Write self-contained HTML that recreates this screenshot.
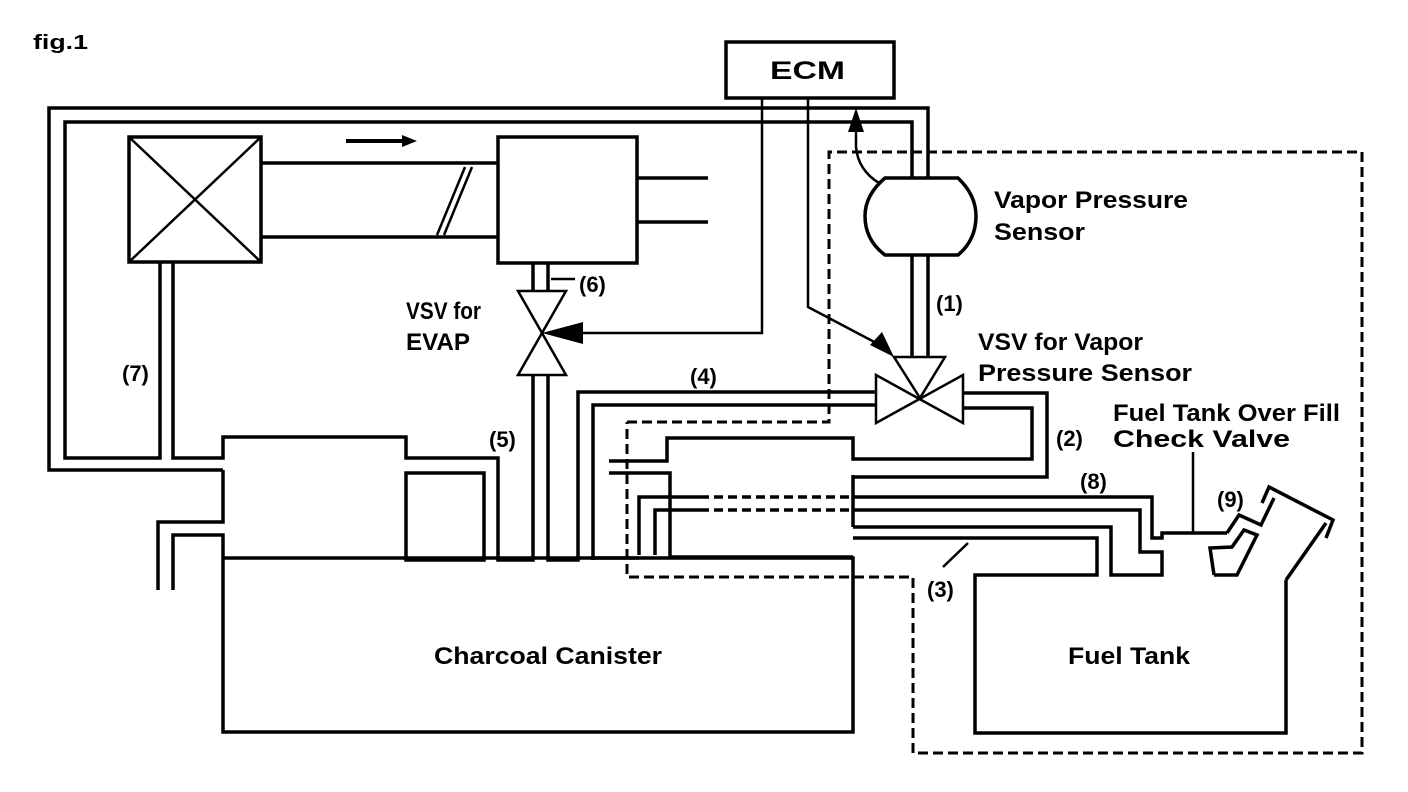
<!DOCTYPE html>
<html><head><meta charset="utf-8"><style>
html,body{margin:0;padding:0;background:#fff;}
svg{display:block;}
text{font-family:"Liberation Sans",sans-serif;font-weight:bold;fill:#000;}
</style></head><body>
<svg width="1408" height="792" viewBox="0 0 1408 792" xmlns="http://www.w3.org/2000/svg">
<g fill="none" stroke="#000" stroke-width="3.5" stroke-linejoin="miter">
<rect x="726" y="42" width="168" height="56"/>
<polyline points="223,470 49,470 49,108 928,108 928,178"/>
<polyline points="160,262 160,458 65,458 65,122 912,122 912,178"/>
<rect x="129" y="137" width="132" height="125"/>
<line x1="129" y1="137" x2="261" y2="262" stroke-width="2.5"/>
<line x1="261" y1="137" x2="129" y2="262" stroke-width="2.5"/>
<line x1="261" y1="163" x2="498" y2="163"/>
<line x1="261" y1="237" x2="498" y2="237"/>
<line x1="465" y1="167" x2="437" y2="235" stroke-width="2.5"/>
<line x1="472" y1="167" x2="444" y2="235" stroke-width="2.5"/>
<rect x="498" y="137" width="139" height="126"/>
<line x1="637" y1="178" x2="708" y2="178"/>
<line x1="637" y1="222" x2="708" y2="222"/>
<line x1="533" y1="263" x2="533" y2="291"/>
<line x1="548" y1="263" x2="548" y2="291"/>
<line x1="551" y1="279" x2="575" y2="279" stroke-width="2.5"/>
<polygon points="518,291 566,291 518,375 566,375" stroke-width="2.5"/>
<polyline points="173,262 173,458 223,458 223,437 406,437 406,458 498,458 498,560 533,560 533,375"/>
<polyline points="223,470 223,522 158,522 158,590"/>
<polyline points="173,590 173,535 223,535 223,558"/>
<rect x="406" y="473" width="78" height="87"/>
<polyline points="223,558 853,558 853,732 223,732 223,558"/>
<polyline points="548,375 548,560 578,560 578,392 876,392"/>
<polyline points="593,560 593,405 876,405"/>
<polyline points="963,393 1047,393 1047,477 853,477"/>
<polyline points="963,408 1032,408 1032,459 853,459 853,438 667,438 667,461 609,461"/>
<polyline points="609,473 670,473 670,557 853,557"/>
<line x1="853" y1="475" x2="853" y2="527"/>
<polyline points="853,497 1152,497 1152,538 1162,538 1162,533 1227,533"/>
<polyline points="853,510 1140,510 1140,552 1162,552 1162,575 1111,575 1111,527 853,527"/>
<polyline points="639,555 639,497 700,497"/>
<polyline points="655,555 655,510 700,510"/>
<line x1="591" y1="558" x2="639" y2="558"/>
<polyline points="853,538 1097,538 1097,575 975,575 975,733 1286,733 1286,580"/>
<line x1="968" y1="543" x2="943" y2="567" stroke-width="2.5"/>
<polyline points="1286,580 1326,523" />
<polyline points="1326,538 1333,520 1269,487 1262,503"/>
<polyline points="1227,533 1239,515 1261,525 1274,498"/>
<polyline points="1214,575 1210,548 1232,547 1244,530 1257,535 1237,575 1214,575"/>
<line x1="1193" y1="452" x2="1193" y2="533" stroke-width="2.5"/>
<path d="M885,178 L958,178 Q976,195 976,216 Q976,240 958,255 L885,255 Q865,240 865,216 Q865,195 885,178 Z"/>
<line x1="912" y1="255" x2="912" y2="357"/>
<line x1="928" y1="255" x2="928" y2="357"/>
<polygon points="894,357 945,357 920,398" stroke-width="2.5"/>
<polygon points="876,375 876,423 963,375 963,423" stroke-width="2.5"/>
<polyline points="762,98 762,333 580,333" stroke-width="2.5"/>
<polyline points="808,98 808,307 880,345" stroke-width="2.5"/>
<path d="M879,183 Q858,170 856,147 L856,125" stroke-width="2.5"/>
<polyline points="627,422 829,422 829,152 1362,152 1362,753 913,753 913,577 627,577 627,422" stroke-width="3" stroke-dasharray="10,5"/>
</g>
<g stroke="#000" stroke-width="3.5" stroke-dasharray="9,5">
<line x1="700" y1="497" x2="853" y2="497"/>
<line x1="700" y1="510" x2="853" y2="510"/>
</g>
<g fill="#000">
<polygon points="346,139 402,139 402,135 417,141 402,147 402,143 346,143"/>
<polygon points="542,333 583,322 583,344"/>
<polygon points="856,108 848,132 864,132"/>
<polygon points="894,357 870,345 882,332"/>
</g>
<text x="33" y="49" font-size="20" textLength="55" lengthAdjust="spacingAndGlyphs">fig.1</text>
<text x="770" y="79" font-size="25" textLength="75" lengthAdjust="spacingAndGlyphs">ECM</text>
<text x="994" y="208" font-size="24" textLength="194" lengthAdjust="spacingAndGlyphs">Vapor Pressure</text>
<text x="994" y="240" font-size="24" textLength="91" lengthAdjust="spacingAndGlyphs">Sensor</text>
<text x="936" y="311" font-size="22">(1)</text>
<text x="978" y="350" font-size="24" textLength="165" lengthAdjust="spacingAndGlyphs">VSV for Vapor</text>
<text x="978" y="381" font-size="24" textLength="214" lengthAdjust="spacingAndGlyphs">Pressure Sensor</text>
<text x="1113" y="421" font-size="24" textLength="227" lengthAdjust="spacingAndGlyphs">Fuel Tank Over Fill</text>
<text x="1113" y="447" font-size="24" textLength="177" lengthAdjust="spacingAndGlyphs">Check Valve</text>
<text x="1056" y="446" font-size="22">(2)</text>
<text x="1080" y="489" font-size="22">(8)</text>
<text x="1217" y="507" font-size="22">(9)</text>
<text x="927" y="597" font-size="22">(3)</text>
<text x="690" y="384" font-size="22">(4)</text>
<text x="489" y="447" font-size="22">(5)</text>
<text x="579" y="292" font-size="22">(6)</text>
<text x="122" y="381" font-size="22">(7)</text>
<text x="406" y="319" font-size="24" textLength="75" lengthAdjust="spacingAndGlyphs">VSV for</text>
<text x="406" y="350" font-size="24" textLength="64" lengthAdjust="spacingAndGlyphs">EVAP</text>
<text x="434" y="664" font-size="24" textLength="228" lengthAdjust="spacingAndGlyphs">Charcoal Canister</text>
<text x="1068" y="664" font-size="24" textLength="122" lengthAdjust="spacingAndGlyphs">Fuel Tank</text>
</svg>
</body></html>
